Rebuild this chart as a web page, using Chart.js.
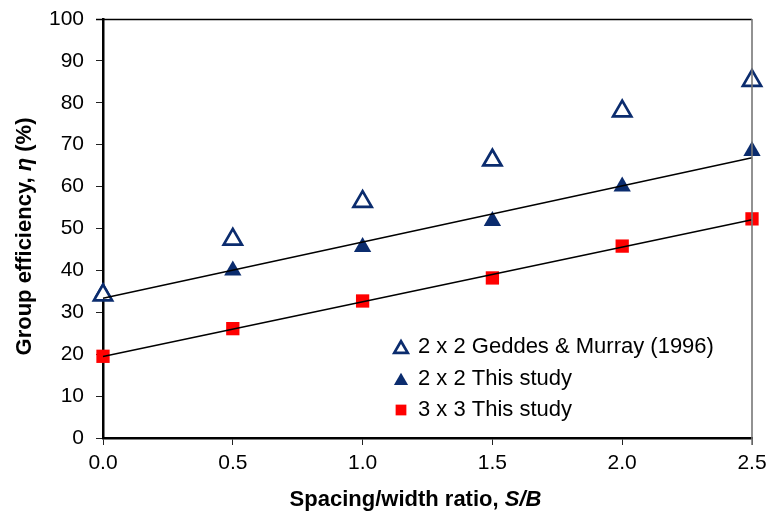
<!DOCTYPE html>
<html>
<head>
<meta charset="utf-8">
<script src="https://cdn.jsdelivr.net/npm/chart.js@4/dist/chart.umd.min.js"></script>
<style>
  html, body { margin: 0; padding: 0; background: #ffffff; }
  #wrap { width: 767px; height: 524px; }
</style>
</head>
<body>
<div id="wrap"><canvas id="chart" width="767" height="524"></canvas></div>
<script>
// Spacing/width ratio S/B and measured group efficiency (%)
const spacingRatio   = [0.0, 0.5, 1.0, 1.5, 2.0, 2.5];
const geddesMurray2x2 = [34.1, 47.4, 56.4, 66.3, 78.0, 85.3];
const thisStudy2x2    = [34.8, 40.0, 45.6, 51.8, 60.0, 68.5];
const thisStudy3x3    = [19.5, 26.1, 32.7, 38.2, 45.8, 52.3];

const yTickValues = [0, 10, 20, 30, 40, 50, 60, 70, 80, 90, 100];
const xTickLabels = ['0.0', '0.5', '1.0', '1.5', '2.0', '2.5'];

const seriesLabels = ['2 x 2 Geddes & Murray (1996)', '2 x 2 This study', '3 x 3 This study'];

const NAVY = '#0b2c6e';
const RED = '#ff0000';
const FONT = '"Liberation Sans", Arial, sans-serif';

function points(xs, ys) { return xs.map((x, i) => ({ x: x, y: ys[i] })); }

// Least-squares linear trend through a series, evaluated at both ends of the x range
function linearTrend(xs, ys) {
  const n = xs.length;
  const mx = xs.reduce((a, b) => a + b, 0) / n;
  const my = ys.reduce((a, b) => a + b, 0) / n;
  let sxy = 0, sxx = 0;
  for (let i = 0; i < n; i++) { sxy += (xs[i] - mx) * (ys[i] - my); sxx += (xs[i] - mx) * (xs[i] - mx); }
  const slope = sxy / sxx, icpt = my - slope * mx;
  const x0 = xs[0], x1 = xs[n - 1];
  return [{ x: x0, y: icpt + slope * x0 }, { x: x1, y: icpt + slope * x1 }];
}

const markerStyles = [
  { pointStyle: 'triangle', radius: 10.5, borderWidth: 2.7, fill: '#ffffff', stroke: NAVY },
  { pointStyle: 'triangle', radius: 10, borderWidth: 0, fill: NAVY, stroke: NAVY },
  { pointStyle: 'rect', radius: 9.4, borderWidth: 0, fill: RED, stroke: RED }
];

const trendCommon = {
  type: 'line', showLine: true, pointRadius: 0, pointHoverRadius: 0,
  borderColor: '#000000', borderWidth: 1.4, fill: false, clip: false
};

function markerDataset(label, ys, s) {
  return {
    type: 'scatter', label: label, data: points(spacingRatio, ys),
    pointStyle: s.pointStyle, pointRadius: s.radius, pointHoverRadius: s.radius,
    pointBackgroundColor: s.fill, pointBorderColor: s.stroke,
    pointBorderWidth: s.borderWidth, pointHoverBorderWidth: s.borderWidth,
    showLine: false, clip: false
  };
}

// Axis titles with an italic symbol, plus plot frame and legend
const decorations = {
  id: 'decorations',
  afterDraw(chart) {
    const ctx = chart.ctx, a = chart.chartArea;
    ctx.save();
    // top edge (black) and right edge (grey) of the plot frame
    ctx.lineWidth = 1.3;
    ctx.strokeStyle = '#000000';
    ctx.beginPath(); ctx.moveTo(a.left - 7, a.top + 0.5); ctx.lineTo(a.right, a.top + 0.5); ctx.stroke();
    ctx.lineWidth = 1.6;
    ctx.strokeStyle = '#777777';
    ctx.beginPath(); ctx.moveTo(a.right, a.top); ctx.lineTo(a.right, a.bottom + 7); ctx.stroke();

    function drawRuns(runs, cx, cy, rotate) {
      let total = 0;
      runs.forEach(r => { ctx.font = r.font; r.w = ctx.measureText(r.text).width; total += r.w; });
      ctx.save();
      ctx.translate(cx, cy);
      if (rotate) ctx.rotate(-Math.PI / 2);
      ctx.fillStyle = '#000000';
      ctx.textBaseline = 'middle';
      ctx.textAlign = 'left';
      let x = -total / 2;
      runs.forEach(r => { ctx.font = r.font; ctx.fillText(r.text, x, 0); x += r.w; });
      ctx.restore();
    }
    const bold = 'bold 22px ' + FONT, boldIt = 'italic bold 22px ' + FONT;
    drawRuns([{ text: 'Spacing/width ratio, ', font: bold }, { text: 'S/B', font: boldIt }],
      (a.left + a.right) / 2 - 12, 500, false);
    drawRuns([{ text: 'Group efficiency, ', font: bold }, { text: 'η', font: boldIt }, { text: ' (%)', font: bold }],
      25, (a.top + a.bottom) / 2 + 8, true);

    // legend
    const lx = a.left + 298, tx = a.left + 315, rows = [347, 379, 410];
    seriesLabels.forEach((label, i) => {
      const s = markerStyles[i];
      ctx.fillStyle = s.fill; ctx.strokeStyle = s.stroke; ctx.lineWidth = s.borderWidth;
      const r = s.pointStyle === 'triangle' ? (i === 0 ? 7.8 : 8.2) : 7.6;
      Chart.helpers.drawPoint(ctx, { pointStyle: s.pointStyle, radius: r, rotation: 0, borderWidth: s.borderWidth },
        lx, rows[i] + (s.pointStyle === 'triangle' ? 2 : 0));
      ctx.fillStyle = '#000000';
      ctx.font = '22px ' + FONT;
      ctx.textBaseline = 'middle';
      ctx.textAlign = 'left';
      ctx.fillText(label, tx, rows[i]);
    });
    ctx.restore();
  }
};

new Chart(document.getElementById('chart'), {
  type: 'scatter',
  data: {
    datasets: [
      Object.assign({ label: 'trend 2x2', data: linearTrend(spacingRatio, thisStudy2x2) }, trendCommon),
      Object.assign({ label: 'trend 3x3', data: linearTrend(spacingRatio, thisStudy3x3) }, trendCommon),
      markerDataset(seriesLabels[0], geddesMurray2x2, markerStyles[0]),
      markerDataset(seriesLabels[1], thisStudy2x2, markerStyles[1]),
      markerDataset(seriesLabels[2], thisStudy3x3, markerStyles[2])
    ]
  },
  options: {
    responsive: false,
    animation: false,
    devicePixelRatio: 1,
    layout: { padding: { top: 19, right: 15, left: 0, bottom: 0 } },
    plugins: { legend: { display: false }, tooltip: { enabled: false } },
    events: [],
    scales: {
      x: {
        type: 'linear', min: 0, max: 2.5,
        afterBuildTicks: s => { s.ticks = xTickLabels.map(t => ({ value: parseFloat(t) })); },
        afterFit: s => { s.height = 86; s.paddingLeft = 0; s.paddingRight = 0; },
        ticks: {
          callback: (v, i) => xTickLabels[i],
          color: '#000000', font: { family: FONT, size: 21 }, padding: 6, maxRotation: 0
        },
        grid: { drawOnChartArea: false, drawTicks: true, tickLength: 7, color: '#222222', lineWidth: 1 },
        border: { display: true, color: '#000000', width: 2.5 }
      },
      y: {
        type: 'linear', min: 0, max: 100,
        afterBuildTicks: s => { s.ticks = yTickValues.map(v => ({ value: v })); },
        afterFit: s => { s.width = 103; s.paddingTop = 0; s.paddingBottom = 0; },
        ticks: {
          callback: v => String(v),
          color: '#000000', font: { family: FONT, size: 21 }, padding: 12
        },
        grid: { drawOnChartArea: false, drawTicks: true, tickLength: 7, color: '#222222', lineWidth: 1 },
        border: { display: true, color: '#000000', width: 2.5 }
      }
    }
  },
  plugins: [decorations]
});
</script>
</body>
</html>
